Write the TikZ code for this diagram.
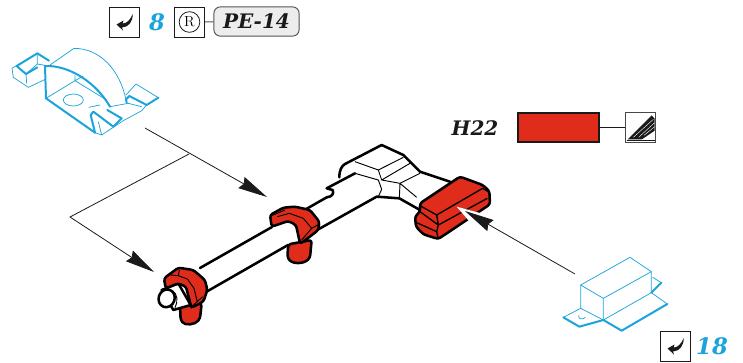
\documentclass[tikz,border=0pt]{standalone}
\usepackage{fontspec}
\usepackage{tikz}
\usetikzlibrary{arrows.meta}
\newfontfamily\codefont{DejaVu Serif}
\definecolor{partblue}{HTML}{1BA3DA}
\definecolor{partred}{HTML}{E02C1B}
\definecolor{inkdark}{HTML}{1A1A1A}
\tikzset{
  >/.tip={Stealth[length=22pt,width=9.5pt,inset=2pt]},
  tagbox/.style={draw=inkdark,line width=0.7pt,fill=white,minimum size=22.5pt,inner sep=0pt},
  pagenum/.style={text=partblue,font=\codefont\fontsize{17}{17}\selectfont\bfseries\itshape,inner sep=0pt},
  codetext/.style={text=inkdark,font=\codefont\fontsize{15}{15}\selectfont\bfseries\itshape,inner sep=0pt},
  leader/.style={draw=inkdark,line width=0.6pt},
  thinblue/.style={draw=partblue,line width=0.55pt,line join=round},
  thickblue/.style={draw=partblue,line width=1.5pt,line join=round,line cap=round},
  heavy/.style={draw=black,line width=1.9pt,line join=round,line cap=round},
  fine/.style={draw=black,line width=0.7pt,line join=round},
  redfill/.style={heavy,fill=partred,rounded corners=2pt},
  retmark/.pic={
    \fill[inkdark] (8.8,-8) .. controls (8.5,0) and (5,5) .. (-2,5.5) -- (-1,8.5) -- (-7.5,2.5) -- (-0.5,-1.5) -- (-1.5,1.5) .. controls (3,1.5) and (6,-2) .. (8.8,-8) -- cycle;
  }
}
\begin{document}
\begin{tikzpicture}[x=0.75pt,y=-0.75pt]
\useasboundingbox (0,0) rectangle (743,362);

% top row
\node[tagbox] (backA) at (124,22) {};
\pic at (backA) {retmark};
\node[pagenum] (numA) at (157,22) {8};
\node[tagbox] (ringbox) at (189.5,22) {};
\node[circle,draw=inkdark,line width=0.6pt,minimum size=15.5pt,inner sep=0pt,font=\fontsize{11}{11}\selectfont] (ring) at (189.5,22) {R};
\node[draw=inkdark!75,line width=0.7pt,fill=black!7,rounded corners=5pt,minimum width=64pt,minimum height=22pt,inner sep=0pt,codetext] (pe) at (256.5,21.5) {PE-14};
\draw[draw=inkdark!75,line width=0.7pt] (ringbox) -- (pe);

% paint key
\node[codetext] (hcode) at (475,128) {H22};
\node[draw=inkdark,line width=1.6pt,fill=partred,minimum width=60.5pt,minimum height=21.5pt,inner sep=0pt] (swatch) at (558.3,127.3) {};
\node[draw=inkdark!80,line width=0.6pt,fill=white,minimum size=22.5pt,inner sep=0pt] (hatch) at (640.5,127.3) {};
\draw[line width=0.6pt,draw=inkdark] (swatch) -- (hatch);
\begin{scope}[shift={(440,100)},scale=1/3]
\fill[inkdark] (563,118) -- (635,46) -- (644,56) -- (644,92) -- (606,118) -- cycle;
\draw[white,line width=0.3pt] (580,112) -- (640,58) (596,112) -- (644,68) (612,106) -- (644,80);
\draw[inkdark,line width=0.5pt] (560,120) -- (644,120);
\end{scope}

% blue bracket
\begin{scope}[scale=1/3]
\draw[thinblue] (36,205) -- (40,232) -- (85,262) -- (136,238);
\draw[thinblue] (36,205) -- (50,196) (78,222) -- (80,250) (112,165) -- (112,192) -- (78,222) (135,196) -- (112,192);
\draw[thickblue] (50,198) -- (112,160) -- (147,182) (50,198) -- (78,222) (78,222) -- (112,202);
\draw[thinblue] (150,195) -- (222,145) .. controls (300,145) and (360,210) .. (378,300);
\draw[thickblue] (135,198) .. controls (210,195) and (290,250) .. (330,320);
\draw[thickblue] (135,198) -- (138,295) -- (285,398);
\draw[thinblue] (138,295) -- (225,242) -- (320,300) (225,242) -- (225,226) (225,242) -- (250,228);
\draw[thinblue] (220,300) ellipse (30 and 18);
\draw[thinblue] (266,322) -- (300,315) (378,285) -- (408,252) -- (475,293) (440,315) -- (425,332) -- (370,362);
\draw[thickblue] (380,308) -- (378,298) -- (388,288) -- (440,315) -- (475,293);
\draw[thinblue] (330,320) -- (385,310) -- (425,320);
\draw[thickblue] (322,330) -- (365,355) -- (340,380) -- (280,335) -- (272,345) -- (285,398);
\draw[thinblue] (285,398) -- (305,405) -- (370,362) (295,365) -- (305,405);
\end{scope}

% blue cover
\begin{scope}[shift={(550,240)},scale=1/3]
\draw[thinblue] (92,135) -- (240,52) -- (304,95) -- (160,175) -- cycle;
\draw[thinblue] (92,135) -- (92,205) -- (160,240) -- (304,158) -- (304,95) (160,175) -- (160,240);
\draw[thinblue] (304,158) -- (352,192) (308,112) -- (334,128) (92,205) -- (40,232);
\draw[thinblue] (86,226) .. controls (84,238) and (98,240) .. (106,232);
\draw[thickblue] (352,192) -- (215,272) -- (160,240) -- (88,260) -- (40,232) (334,128) -- (304,158);
\end{scope}

% shaft head
\begin{scope}[shift={(310,100)},scale=1/3]
\draw[heavy] (88,232) .. controls (88,210) and (95,198) .. (105,192) -- (215,135) -- (280,165) -- (330,215) -- (420,245);
\draw[fine] (135,185) -- (205,210) -- (280,172) (205,210) -- (215,240) -- (300,190) (215,240) -- (270,250) -- (330,220);
\draw[fine] (270,250) -- (268,295) (270,250) -- (320,292) (135,220) -- (205,240) -- (215,268) -- (205,290);
\draw[heavy] (-20,332) -- (50,292);
\draw[heavy] (50,292) .. controls (68,290) and (72,280) .. (68,270) -- (50,265) -- (135,220);
\draw[heavy] (25,388) -- (200,290) -- (268,295) -- (330,330);
\end{scope}

% tube
\draw[heavy] (200,268) -- (272,227) (206,292) -- (288,245);

% front clamp
\begin{scope}[shift={(150,255)},scale=1/3]
\draw[redfill] (90,155) -- (92,195) .. controls (105,212) and (135,210) .. (150,190) -- (155,145) -- cycle;
\draw[heavy,fill=white] (35,105) -- (85,85) -- (122,150) -- (70,165) -- cycle;
\draw[redfill] (42,70) -- (47,100) -- (85,85) -- (108,95) -- (122,150) -- (125,158) -- (160,140) -- (172,105) -- (165,75) -- (130,45) -- (85,38) -- cycle;
\draw[fine] (62,60) -- (85,62) -- (112,72) -- (132,100) -- (142,140) (85,62) -- (88,45) (125,155) -- (158,125);
\draw[heavy,fill=white,rotate around={-20:(50,130)}] (50,130) ellipse (24 and 27);
\draw[fine] (68,108) .. controls (82,115) and (85,140) .. (75,158);
\end{scope}

% middle clamp
\begin{scope}[shift={(260,195)},scale=1/3]
\draw[redfill] (85,148) -- (82,185) .. controls (95,208) and (130,208) .. (150,188) -- (155,135) -- cycle;
\draw[redfill] (30,60) -- (35,95) -- (85,78) -- (108,90) -- (120,145) -- (130,140) -- (175,105) -- (178,80) -- (150,45) -- (105,35) -- (70,38) -- cycle;
\draw[fine] (52,65) -- (88,55) -- (130,70) -- (155,100) -- (125,135) (155,100) -- (176,88) (35,62) -- (75,45);
\end{scope}

% red block
\begin{scope}[shift={(410,165)},scale=1/3]
\draw[redfill] (30,115) -- (150,35) -- (218,60) -- (238,78) -- (240,118) -- (85,222) -- (40,208) -- (18,185) -- (15,155) -- (30,140) -- cycle;
\draw[fine,line width=1pt] (30,122) -- (80,150) -- (218,70) -- (238,82) (30,140) -- (85,180) -- (232,100) (18,172) -- (80,200) -- (85,222) (80,150) -- (85,180) -- (80,200);
\end{scope}

% leaders
\coordinate (fromclip) at (145,128);
\coordinate (fork) at (189,154);
\coordinate (bend) at (70,217);
\coordinate (tipA) at (267,197);
\coordinate (tipB) at (154,272);
\coordinate (fromcover) at (575,274);
\coordinate (tipC) at (465,211);
\coordinate (glintA) at (456.7,206.7);
\coordinate (glintB) at (480,213);
\coordinate (glintC) at (469,221);
\draw[leader,->] (fromclip) -- (tipA);
\draw[leader,->] (fork) -- (bend) -- (tipB);
\fill[white] (glintA) -- (glintB) -- (glintC) -- cycle;
\draw[leader,->] (fromcover) -- (tipC);

% bottom right
\node[tagbox] (backB) at (675,346) {};
\pic at (backB) {retmark};
\node[pagenum] (numB) at (712,346) {18};
\end{tikzpicture}
\end{document}
